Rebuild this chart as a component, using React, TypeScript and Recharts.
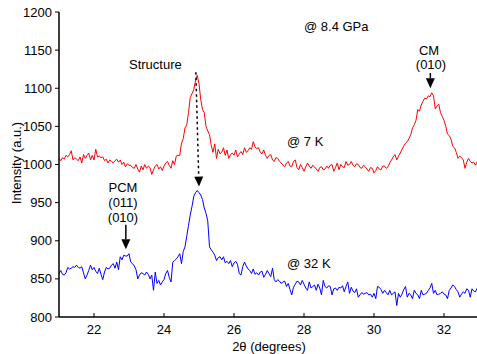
import React from 'react';
import { LineChart, Line, XAxis, YAxis, ReferenceLine, Customized } from 'recharts';

// 2θ scan grid (degrees)
const ANGLES = [
  21, 21.05, 21.1, 21.15, 21.2, 21.25, 21.3, 21.35, 21.4, 21.45, 21.5, 21.55, 21.6, 21.65, 21.7, 21.75, 21.8, 21.85, 21.9, 21.95,
  22, 22.05, 22.1, 22.15, 22.2, 22.25, 22.3, 22.35, 22.4, 22.45, 22.5, 22.55, 22.6, 22.65, 22.7, 22.75, 22.8, 22.85, 22.9, 22.95,
  23, 23.05, 23.1, 23.15, 23.2, 23.25, 23.3, 23.35, 23.4, 23.45, 23.5, 23.55, 23.6, 23.65, 23.7, 23.75, 23.8, 23.85, 23.9, 23.95,
  24, 24.05, 24.1, 24.15, 24.2, 24.25, 24.3, 24.35, 24.4, 24.45, 24.5, 24.55, 24.6, 24.65, 24.7, 24.75, 24.8, 24.85, 24.9, 24.95,
  25, 25.05, 25.1, 25.15, 25.2, 25.25, 25.3, 25.35, 25.4, 25.45, 25.5, 25.55, 25.6, 25.65, 25.7, 25.75, 25.8, 25.85, 25.9, 25.95,
  26, 26.05, 26.1, 26.15, 26.2, 26.25, 26.3, 26.35, 26.4, 26.45, 26.5, 26.55, 26.6, 26.65, 26.7, 26.75, 26.8, 26.85, 26.9, 26.95,
  27, 27.05, 27.1, 27.15, 27.2, 27.25, 27.3, 27.35, 27.4, 27.45, 27.5, 27.55, 27.6, 27.65, 27.7, 27.75, 27.8, 27.85, 27.9, 27.95,
  28, 28.05, 28.1, 28.15, 28.2, 28.25, 28.3, 28.35, 28.4, 28.45, 28.5, 28.55, 28.6, 28.65, 28.7, 28.75, 28.8, 28.85, 28.9, 28.95,
  29, 29.05, 29.1, 29.15, 29.2, 29.25, 29.3, 29.35, 29.4, 29.45, 29.5, 29.55, 29.6, 29.65, 29.7, 29.75, 29.8, 29.85, 29.9, 29.95,
  30, 30.05, 30.1, 30.15, 30.2, 30.25, 30.3, 30.35, 30.4, 30.45, 30.5, 30.55, 30.6, 30.65, 30.7, 30.75, 30.8, 30.85, 30.9, 30.95,
  31, 31.05, 31.1, 31.15, 31.2, 31.25, 31.3, 31.35, 31.4, 31.45, 31.5, 31.55, 31.6, 31.65, 31.7, 31.75, 31.8, 31.85, 31.9, 31.95,
  32, 32.05, 32.1, 32.15, 32.2, 32.25, 32.3, 32.35, 32.4, 32.45, 32.5, 32.55, 32.6, 32.65, 32.7, 32.75, 32.8, 32.85, 32.9, 32.95,
  33,
];

// intensity at 7 K
const SCAN_7K = [
  1008, 1005, 1009, 1007, 1012, 1010, 1013, 1018, 1006, 1009, 1007, 1005, 1010, 1002, 1013, 1008, 1012, 1015, 1006, 1012,
  1006, 1020, 1010, 1011, 1009, 1010, 1005, 1007, 1002, 1006, 1004, 1002, 1005, 1007, 1003, 1006, 1000, 1003, 997, 1001,
  999, 999, 996, 995, 1000, 994, 990, 998, 993, 1000, 995, 998, 996, 987, 993, 998, 1000, 994, 997, 992,
  998, 1002, 1004, 999, 995, 1005, 1000, 1011, 1012, 1012, 1028, 1034, 1048, 1052, 1068, 1088, 1093, 1098, 1110, 1117,
  1106, 1085, 1072, 1068, 1050, 1044, 1039, 1025, 1016, 1027, 1008, 1020, 1014, 1016, 1022, 1012, 1019, 1008, 1013, 1015,
  1012, 1019, 1010, 1014, 1017, 1013, 1022, 1016, 1018, 1022, 1020, 1030, 1023, 1021, 1022, 1016, 1014, 1019, 1012, 1008,
  1012, 1013, 1006, 1004, 1009, 1008, 1004, 1002, 999, 997, 1002, 1004, 998, 997, 1004, 1006, 996, 993, 1000, 996,
  991, 997, 1002, 998, 995, 999, 997, 994, 991, 996, 997, 993, 994, 998, 995, 999, 1000, 991, 996, 1002,
  993, 1000, 997, 996, 1004, 999, 1000, 1004, 999, 997, 1001, 1000, 996, 995, 999, 997, 994, 991, 996, 995,
  989, 992, 997, 994, 993, 998, 998, 995, 997, 1002, 1006, 1010, 1013, 1006, 1011, 1015, 1020, 1024, 1028, 1030,
  1034, 1039, 1048, 1052, 1058, 1072, 1070, 1078, 1083, 1087, 1086, 1090, 1089, 1094, 1090, 1073, 1077, 1079, 1068, 1063,
  1058, 1050, 1040, 1038, 1033, 1024, 1022, 1016, 1008, 1011, 1009, 1006, 995, 1003, 1008, 1004, 1002, 1003, 999, 1004,
  1002,
];

// intensity at 32 K
const SCAN_32K = [
  857, 861, 856, 855, 858, 865, 863, 864, 866, 865, 868, 865, 864, 866, 858, 850, 855, 861, 868, 862,
  865, 860, 857, 864, 856, 849, 859, 865, 863, 864, 868, 870, 864, 872, 862, 879, 875, 881, 880, 880,
  883, 872, 870, 867, 862, 850, 855, 858, 857, 855, 859, 856, 850, 855, 835, 859, 844, 848, 842, 846,
  849, 857, 861, 852, 846, 872, 874, 876, 879, 883, 870, 886, 892, 906, 920, 934, 945, 958, 963, 966,
  963, 960, 954, 943, 936, 926, 892, 888, 885, 881, 874, 878, 879, 875, 879, 871, 873, 870, 874, 866,
  871, 873, 869, 857, 855, 866, 872, 867, 863, 861, 857, 863, 856, 858, 855, 859, 860, 852, 856, 861,
  857, 853, 864, 849, 846, 849, 847, 844, 846, 847, 840, 844, 836, 829, 839, 843, 847, 846, 842, 848,
  843, 838, 835, 846, 838, 840, 842, 835, 843, 838, 829, 848, 840, 838, 841, 840, 829, 837, 838, 835,
  839, 838, 841, 833, 840, 846, 831, 839, 834, 832, 837, 826, 829, 832, 830, 831, 832, 829, 830, 826,
  831, 824, 840, 839, 836, 831, 835, 832, 829, 835, 829, 831, 833, 815, 831, 826, 830, 836, 840, 826,
  831, 829, 824, 835, 831, 829, 824, 835, 829, 830, 831, 835, 838, 844, 831, 835, 829, 830, 831, 833,
  830, 829, 824, 835, 838, 842, 840, 836, 833, 826, 830, 833, 831, 837, 835, 826, 837, 834, 833, 838,
  836,
];

const X_TICKS = [22, 24, 26, 28, 30, 32];
const Y_TICKS = [800, 850, 900, 950, 1000, 1050, 1100, 1150, 1200];

// arrow segments in data units: [from, to(tip)]
const PCM_ARROW = [{ x: 22.91, y: 921 }, { x: 22.91, y: 889 }];
const CM_ARROW = [{ x: 31.61, y: 1120 }, { x: 31.61, y: 1100 }];
const SHIFT_ARROW = [{ x: 24.91, y: 1121 }, { x: 25.0, y: 971 }];

const FONT = '"Liberation Sans", Arial, Helvetica, sans-serif';

const data = ANGLES.map((angle, i) => ({ angle, low: SCAN_7K[i], high: SCAN_32K[i] }));

const BottomTick = ({ x, y, payload }: any) => (
  <g>
    <line x1={x} x2={x} y1={y} y2={y - 4} stroke="#000" />
    <text x={x} y={y + 17} textAnchor="middle" fontSize={13} fontFamily={FONT} fill="#000">
      {payload.value}
    </text>
  </g>
);

const TopTick = ({ x, y }: any) => <line x1={x} x2={x} y1={y} y2={y + 4} stroke="#000" />;

const RightTick = ({ x, y }: any) => <line x1={x} x2={x - 4} y1={y} y2={y} stroke="#000" />;

// line with a filled head at the second point
const arrow = (dashed: boolean) => (props: any) => {
  const { x1, y1, x2, y2 } = props;
  const dx = x2 - x1;
  const dy = y2 - y1;
  const len = Math.sqrt(dx * dx + dy * dy);
  const ux = dx / len;
  const uy = dy / len;
  const head = 10;
  const half = 4.5;
  const bx = x2 - ux * head;
  const by = y2 - uy * head;
  return (
    <g>
      <line
        x1={x1}
        y1={y1}
        x2={bx}
        y2={by}
        stroke="#000"
        strokeWidth={1.5}
        strokeDasharray={dashed ? '2.5 3' : undefined}
      />
      <polygon
        points={`${x2},${y2} ${bx - uy * half},${by + ux * half} ${bx + uy * half},${by - ux * half}`}
        fill="#000"
      />
    </g>
  );
};

const Annotations = () => (
  <g fontFamily={FONT} fontSize={13} fill="#000">
    <text x={304} y={31}>@ 8.4 GPa</text>
    <text x={129} y={69}>Structure</text>
    <text x={287} y={146}>@ 7 K</text>
    <text x={287} y={268}>@ 32 K</text>
    <text x={429} y={55} textAnchor="middle">CM</text>
    <text x={431} y={69} textAnchor="middle">(010)</text>
    <text x={123} y={192} textAnchor="middle">PCM</text>
    <text x={123} y={207} textAnchor="middle">(011)</text>
    <text x={123} y={222} textAnchor="middle">(010)</text>
    <text x={269} y={351} textAnchor="middle">2θ (degrees)</text>
    <text x={21} y={163} textAnchor="middle" transform="rotate(-90 21 163)">Intensity (a.u.)</text>
  </g>
);

export default function App() {
  return (
    <div style={{ position: 'absolute', left: 0, top: 0, width: 477, height: 354, overflow: 'hidden', background: '#fff' }}>
      <LineChart width={481} height={354} data={data} margin={{ top: 12, right: 2, bottom: 0, left: 0 }}>
        <XAxis
          xAxisId="b"
          dataKey="angle"
          type="number"
          domain={[21, 33]}
          ticks={X_TICKS}
          height={37}
          tickSize={0}
          tickMargin={0}
          tick={<BottomTick />}
          axisLine={{ stroke: '#000', strokeWidth: 1.5 }}
        />
        <XAxis
          xAxisId="t"
          orientation="top"
          dataKey="angle"
          type="number"
          domain={[21, 33]}
          ticks={X_TICKS}
          height={0}
          tickSize={0}
          tickMargin={0}
          tick={<TopTick />}
          axisLine={{ stroke: '#000', strokeWidth: 1 }}
        />
        <YAxis
          yAxisId="l"
          type="number"
          domain={[800, 1200]}
          ticks={Y_TICKS}
          width={59}
          tickSize={4}
          tickMargin={3}
          tick={{ fontSize: 13, fill: '#000', fontFamily: FONT }}
          tickLine={{ stroke: '#000' }}
          axisLine={{ stroke: '#000', strokeWidth: 1.5 }}
        />
        <YAxis
          yAxisId="r"
          orientation="right"
          type="number"
          domain={[800, 1200]}
          ticks={Y_TICKS}
          width={0}
          tickSize={0}
          tickMargin={0}
          tick={<RightTick />}
          axisLine={{ stroke: '#000', strokeWidth: 1 }}
        />
        <Line
          xAxisId="b"
          yAxisId="l"
          dataKey="low"
          stroke="#ff0000"
          strokeWidth={1}
          dot={false}
          type="linear"
          isAnimationActive={false}
        />
        <Line
          xAxisId="b"
          yAxisId="l"
          dataKey="high"
          stroke="#0000ff"
          strokeWidth={1}
          dot={false}
          type="linear"
          isAnimationActive={false}
        />
        <ReferenceLine xAxisId="b" yAxisId="l" segment={PCM_ARROW} shape={arrow(false)} />
        <ReferenceLine xAxisId="b" yAxisId="l" segment={CM_ARROW} shape={arrow(false)} />
        <ReferenceLine xAxisId="b" yAxisId="l" segment={SHIFT_ARROW} shape={arrow(true)} />
        <Customized component={<Annotations />} />
      </LineChart>
    </div>
  );
}
